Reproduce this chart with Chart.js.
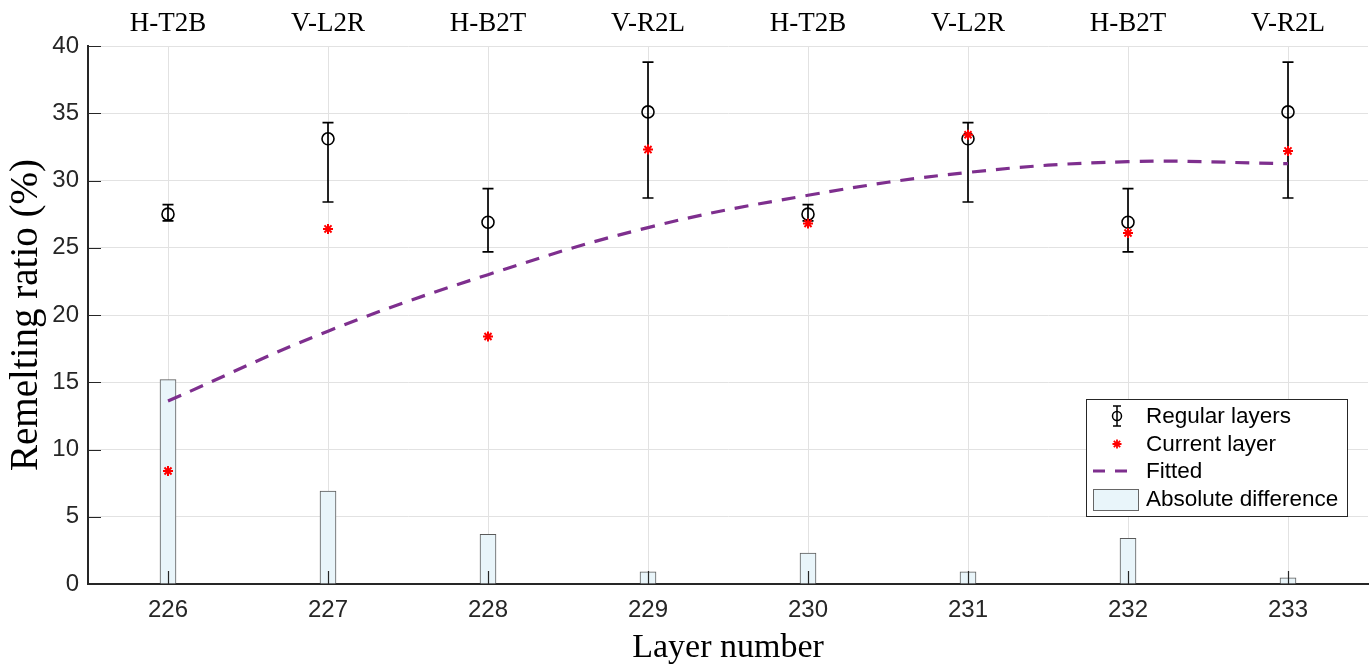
<!DOCTYPE html>
<html>
<head>
<meta charset="utf-8">
<script src="https://cdn.jsdelivr.net/npm/chart.js@4/dist/chart.umd.min.js"></script>
<style>
html,body{margin:0;padding:0;background:#fff;}
#wrap{width:1371px;height:669px;position:relative;}
</style>
</head>
<body>
<div id="wrap"><canvas id="c" width="1371" height="669"></canvas></div>
<script>
const layers = ['226','227','228','229','230','231','232','233'];
const orientations = ['H-T2B','V-L2R','H-B2T','V-R2L','H-T2B','V-L2R','H-B2T','V-R2L'];
const regularMean = [27.5, 33.1, 26.9, 35.1, 27.5, 33.1, 26.9, 35.1];
const regularLow  = [27.0, 28.4, 24.7, 28.7, 27.0, 28.4, 24.7, 28.7];
const regularHigh = [28.2, 34.3, 29.4, 38.8, 28.2, 34.3, 29.4, 38.8];
const currentLayer = [8.4, 26.4, 18.4, 32.3, 26.8, 33.4, 26.1, 32.2];
const fitted = [13.6, 18.8, 23.0, 26.5, 28.9, 30.6, 31.4, 31.25];
const absDiff = [15.2, 6.9, 3.7, 0.9, 2.3, 0.9, 3.4, 0.45];
const yTicks = [0, 5, 10, 15, 20, 25, 30, 35, 40];

const AXIS = '#262626';
const GRID = '#e2e2e2';
const SANS = "'Liberation Sans', Arial, Helvetica, sans-serif";
const SERIF = "'Liberation Serif', 'Times New Roman', serif";

const errorBars = {
  id: 'errorBars',
  beforeDatasetsDraw(chart) {
    const {ctx, scales: {x, y}} = chart;
    ctx.save();
    ctx.strokeStyle = '#000';
    ctx.lineWidth = 1.7;
    const cap = 5.5;
    layers.forEach((l, i) => {
      const px = x.getPixelForValue(i);
      const yl = y.getPixelForValue(regularLow[i]);
      const yh = y.getPixelForValue(regularHigh[i]);
      ctx.beginPath();
      ctx.moveTo(px, yl); ctx.lineTo(px, yh);
      ctx.moveTo(px - cap, yl); ctx.lineTo(px + cap, yl);
      ctx.moveTo(px - cap, yh); ctx.lineTo(px + cap, yh);
      ctx.stroke();
    });
    ctx.restore();
  }
};

const innerTicks = {
  id: 'innerTicks',
  afterDatasetsDraw(chart) {
    const {ctx, scales: {x, y}, chartArea} = chart;
    ctx.save();
    ctx.strokeStyle = AXIS;
    ctx.lineWidth = 1.2;
    const len = 13;
    ctx.beginPath();
    layers.forEach((l, i) => {
      const px = Math.round(x.getPixelForValue(i)) + 0.5;
      ctx.moveTo(px, chartArea.bottom); ctx.lineTo(px, chartArea.bottom - len);
    });
    yTicks.forEach(v => {
      const py = Math.round(y.getPixelForValue(v)) + 0.5;
      ctx.moveTo(chartArea.left, py); ctx.lineTo(chartArea.left + len, py);
    });
    ctx.stroke();
    ctx.restore();
  }
};

const customLegend = {
  id: 'customLegend',
  afterDraw(chart) {
    const ctx = chart.ctx;
    const bx = 1086, by = 399, bw = 261, bh = 117;
    ctx.save();
    ctx.fillStyle = '#fff';
    ctx.fillRect(bx, by, bw, bh);
    ctx.strokeStyle = AXIS;
    ctx.lineWidth = 1;
    ctx.strokeRect(bx + 0.5, by + 0.5, bw, bh);
    const sx = 1117, tx = 1146;
    const rows = [416, 444, 471, 499];
    // Regular layers: errorbar + circle
    ctx.strokeStyle = '#000'; ctx.lineWidth = 1.5;
    ctx.beginPath();
    ctx.moveTo(sx, rows[0] - 10); ctx.lineTo(sx, rows[0] + 10);
    ctx.moveTo(sx - 4, rows[0] - 10); ctx.lineTo(sx + 4, rows[0] - 10);
    ctx.moveTo(sx - 4, rows[0] + 10); ctx.lineTo(sx + 4, rows[0] + 10);
    ctx.stroke();
    ctx.beginPath();
    ctx.arc(sx, rows[0], 4.5, 0, Math.PI * 2); ctx.stroke();
    // Current layer: star
    ctx.strokeStyle = '#ff0000'; ctx.lineWidth = 1.8;
    ctx.beginPath();
    const r = 4.5;
    for (let k = 0; k < 4; k++) {
      const a = k * Math.PI / 4;
      ctx.moveTo(sx - r * Math.cos(a), rows[1] - r * Math.sin(a));
      ctx.lineTo(sx + r * Math.cos(a), rows[1] + r * Math.sin(a));
    }
    ctx.stroke();
    // Fitted: dashed line
    ctx.strokeStyle = '#7e2f8e'; ctx.lineWidth = 3; ctx.setLineDash([12, 10]);
    ctx.beginPath(); ctx.moveTo(1093, rows[2]); ctx.lineTo(1131, rows[2]); ctx.stroke();
    ctx.setLineDash([]);
    // Absolute difference patch
    ctx.fillStyle = '#e9f5fa'; ctx.fillRect(1093, 489, 46, 21);
    ctx.strokeStyle = '#666'; ctx.lineWidth = 1; ctx.strokeRect(1093.5, 489.5, 45, 21);
    // Texts
    ctx.fillStyle = '#000';
    ctx.font = '22.5px ' + SANS;
    ctx.textBaseline = 'middle';
    ctx.textAlign = 'left';
    const names = chart.data.datasets.map(d => d.label);
    const order = ['Regular layers', 'Current layer', 'Fitted', 'Absolute difference'];
    order.forEach((n, i) => {
      const lbl = names.find(v => v === n);
      ctx.fillText(lbl, tx, rows[i] + 1);
    });
    ctx.restore();
  }
};

new Chart(document.getElementById('c'), {
  data: {
    labels: layers,
    datasets: [
      {
        type: 'line', label: 'Current layer', data: currentLayer, showLine: false,
        pointStyle: 'star', pointRadius: 5, pointBorderColor: '#ff0000', pointBorderWidth: 2,
        pointBackgroundColor: '#ff0000', order: 1
      },
      {
        type: 'line', label: 'Regular layers', data: regularMean, showLine: false,
        pointStyle: 'circle', pointRadius: 6, pointBorderColor: '#000', pointBorderWidth: 1.6,
        pointBackgroundColor: 'rgba(255,255,255,0)', order: 2
      },
      {
        type: 'line', label: 'Fitted', data: fitted, borderColor: '#7e2f8e', borderWidth: 3.2,
        borderDash: [14, 10], pointRadius: 0, tension: 0.4, fill: false, order: 3
      },
      {
        type: 'bar', label: 'Absolute difference', data: absDiff, backgroundColor: '#e9f5fa',
        borderColor: '#5a5a5a', borderWidth: 1, barThickness: 16, order: 4
      }
    ]
  },
  options: {
    responsive: false,
    animation: false,
    layout: { autoPadding: false, padding: { left: 0, right: 3, top: 0, bottom: 0 } },
    plugins: { legend: { display: false }, tooltip: { enabled: false } },
    scales: {
      x: {
        type: 'category', position: 'bottom', offset: true,
        grid: { offset: false, color: GRID, lineWidth: 1, drawTicks: false },
        border: { color: AXIS, width: 2 },
        ticks: { color: AXIS, font: { family: SANS, size: 24 }, padding: 12 },
        title: { display: true, text: 'Layer number', color: '#000',
                 font: { family: SERIF, size: 34 }, padding: { top: 0, bottom: 1 } },
        afterFit(s) { s.height = 85; s.paddingLeft = 0; s.paddingRight = 0; }
      },
      x2: {
        type: 'category', position: 'top', offset: true, labels: orientations,
        grid: { display: false, drawTicks: false }, border: { display: false },
        ticks: { color: '#000', font: { family: SERIF, size: 27 }, padding: 6 },
        afterFit(s) { s.height = 46; s.paddingLeft = 0; s.paddingRight = 0; }
      },
      y: {
        type: 'linear', min: 0, max: 40,
        grid: { color: GRID, lineWidth: 1, drawTicks: false },
        border: { color: AXIS, width: 2 },
        ticks: { stepSize: 5, color: AXIS, font: { family: SANS, size: 24 }, padding: 9 },
        title: { display: true, text: 'Remelting ratio (%)', color: '#000',
                 font: { family: SERIF, size: 39 }, padding: { top: 3, bottom: 0 } },
        afterFit(s) { s.width = 88; s.paddingTop = 0; s.paddingBottom = 0; }
      }
    }
  },
  plugins: [errorBars, innerTicks, customLegend]
});
</script>
</body>
</html>
